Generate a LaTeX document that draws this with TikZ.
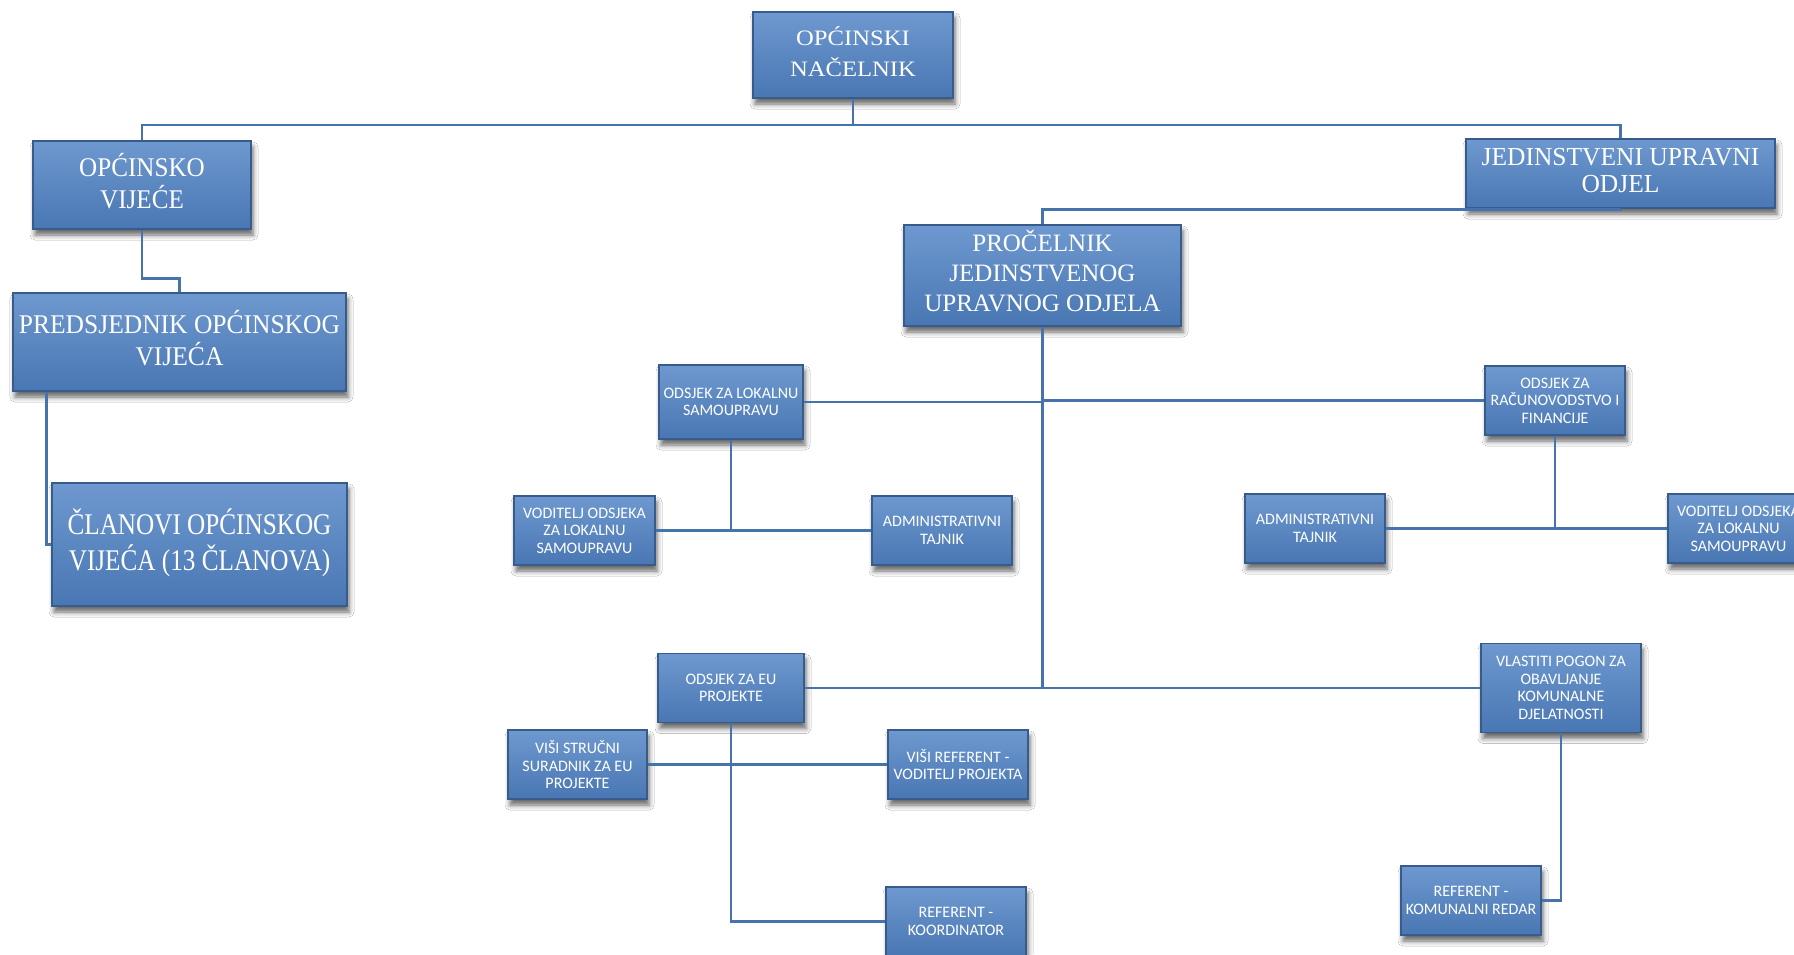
\documentclass[tikz,border=0pt]{standalone}
\usepackage{fontspec}
\usepackage{graphicx}
\setmainfont{Liberation Serif}
\newfontfamily\carlito{Carlito}
\usetikzlibrary{shadows.blur}
\definecolor{boxtop}{HTML}{6E98CF}
\definecolor{boxbot}{HTML}{4977B3}
\definecolor{boxedge}{HTML}{375C8C}
\definecolor{linkc}{HTML}{4673AB}
\newcommand\BigTxt[4]{\scalebox{#1}[1]{\fontsize{#2}{#3}\selectfont\begin{tabular}{@{}c@{}}#4\end{tabular}}}
\begin{document}
\begin{tikzpicture}[x=1pt,y=-1pt,
  orgbox/.style={rectangle, top color=boxtop, bottom color=boxbot, draw=boxedge,
    line width=1.4pt, text=white, inner sep=0pt,
    blur shadow={shadow xshift=2pt, shadow yshift=-6pt, shadow blur radius=5pt, shadow opacity=60}},
  bigbox/.style={orgbox},
  smallbox/.style={orgbox, align=center, font=\carlito\fontsize{16}{17.5}\selectfont},
  link/.style={draw=linkc, line width=2.8pt}]
\useasboundingbox (0,0) rectangle (1794,954);
\fill[white] (0,0) rectangle (1794,954);
\clip (0,0) rectangle (1794,954);

% large boxes
\node[bigbox, minimum width=200pt, minimum height=86pt] (nacelnik) at (853,55)
  {\BigTxt{1.12}{22}{31}{OPĆINSKI\\NAČELNIK}};
\node[bigbox, minimum width=218pt, minimum height=88pt] (vijece) at (142,185)
  {\BigTxt{0.93}{27}{29}{OPĆINSKO\\VIJEĆE}};
\node[bigbox, minimum width=333pt, minimum height=98pt] (predsj) at (179.5,342)
  {\BigTxt{0.945}{27}{30}{PREDSJEDNIK OPĆINSKOG\\VIJEĆA}};
\node[bigbox, minimum width=295pt, minimum height=123pt] (clanovi) at (199.5,544.5)
  {\BigTxt{0.84}{30}{32}{ČLANOVI OPĆINSKOG\\VIJEĆA (13 ČLANOVA)}};
\node[bigbox, minimum width=309pt, minimum height=69pt] (jedinstveni) at (1620.5,173.5)
  {\BigTxt{0.98}{26}{27}{JEDINSTVENI UPRAVNI\\ODJEL}};
\node[bigbox, minimum width=277pt, minimum height=101pt] (procelnik) at (1042.5,275.5)
  {\BigTxt{1.0}{25}{30}{PROČELNIK\\JEDINSTVENOG\\UPRAVNOG ODJELA}};

% small boxes
\node[smallbox, minimum width=144pt, minimum height=74pt] (lokalnu) at (731,402) {ODSJEK ZA LOKALNU\\SAMOUPRAVU};
\node[smallbox, minimum width=141pt, minimum height=69pt] (voditelja) at (584.5,530.5) {VODITELJ ODSJEKA\\ZA LOKALNU\\SAMOUPRAVU};
\node[smallbox, minimum width=140pt, minimum height=69pt] (admina) at (942,530.5) {ADMINISTRATIVNI\\TAJNIK};
\node[smallbox, minimum width=140pt, minimum height=69pt] (racun) at (1555,400.5) {ODSJEK ZA\\RAČUNOVODSTVO I\\FINANCIJE};
\node[smallbox, minimum width=140pt, minimum height=69pt] (adminb) at (1315,528.5) {ADMINISTRATIVNI\\TAJNIK};
\node[smallbox, minimum width=141pt, minimum height=69pt] (voditeljb) at (1738.5,528.5) {VODITELJ ODSJEKA\\ZA LOKALNU\\SAMOUPRAVU};
\node[smallbox, minimum width=146pt, minimum height=69pt] (eu) at (731,688) {ODSJEK ZA EU\\PROJEKTE};
\node[smallbox, minimum width=139pt, minimum height=69pt] (visistr) at (577.5,764.5) {VIŠI STRUČNI\\SURADNIK ZA EU\\PROJEKTE};
\node[smallbox, minimum width=140pt, minimum height=69pt] (visiref) at (958,764.5) {VIŠI REFERENT -\\VODITELJ PROJEKTA};
\node[smallbox, minimum width=140pt, minimum height=69pt] (koord) at (956,921.5) {REFERENT -\\KOORDINATOR};
\node[smallbox, minimum width=160pt, minimum height=89pt] (vlastiti) at (1561,688) {VLASTITI POGON ZA\\OBAVLJANJE\\KOMUNALNE\\DJELATNOSTI};
\node[smallbox, minimum width=140pt, minimum height=69pt] (komunalni) at (1471,900.5) {REFERENT -\\KOMUNALNI REDAR};

% connectors
\coordinate (topbar) at (853,125);
\draw[link] (nacelnik.south) -- (nacelnik.south |- topbar) -| (vijece.north);
\draw[link] (nacelnik.south |- topbar) -| (jedinstveni.north);
\draw[link] (vijece.south) -- ++(0,49) -| (predsj.north);
\draw[link] ([xshift=34pt]predsj.south west) |- (clanovi.west);
\draw[link] (jedinstveni.south) -- ++(0,1) -| (procelnik.north);
\draw[link] (procelnik.south) -- (procelnik.south |- eu.east);
\draw[link] (lokalnu.east) -- (lokalnu.east -| procelnik.south);
\draw[link] (racun.west) -- (racun.west -| procelnik.south);
\draw[link] (eu.east) -- (vlastiti.west);
\draw[link] (lokalnu.south) -- (lokalnu.south |- voditelja.east);
\draw[link] (voditelja.east) -- (admina.west);
\draw[link] (racun.south) -- (racun.south |- adminb.east);
\draw[link] (adminb.east) -- (voditeljb.west);
\draw[link] (eu.south) |- (koord.west);
\draw[link] (visistr.east) -- (visiref.west);
\draw[link] (vlastiti.south) |- (komunalni.east);
\end{tikzpicture}
\end{document}
